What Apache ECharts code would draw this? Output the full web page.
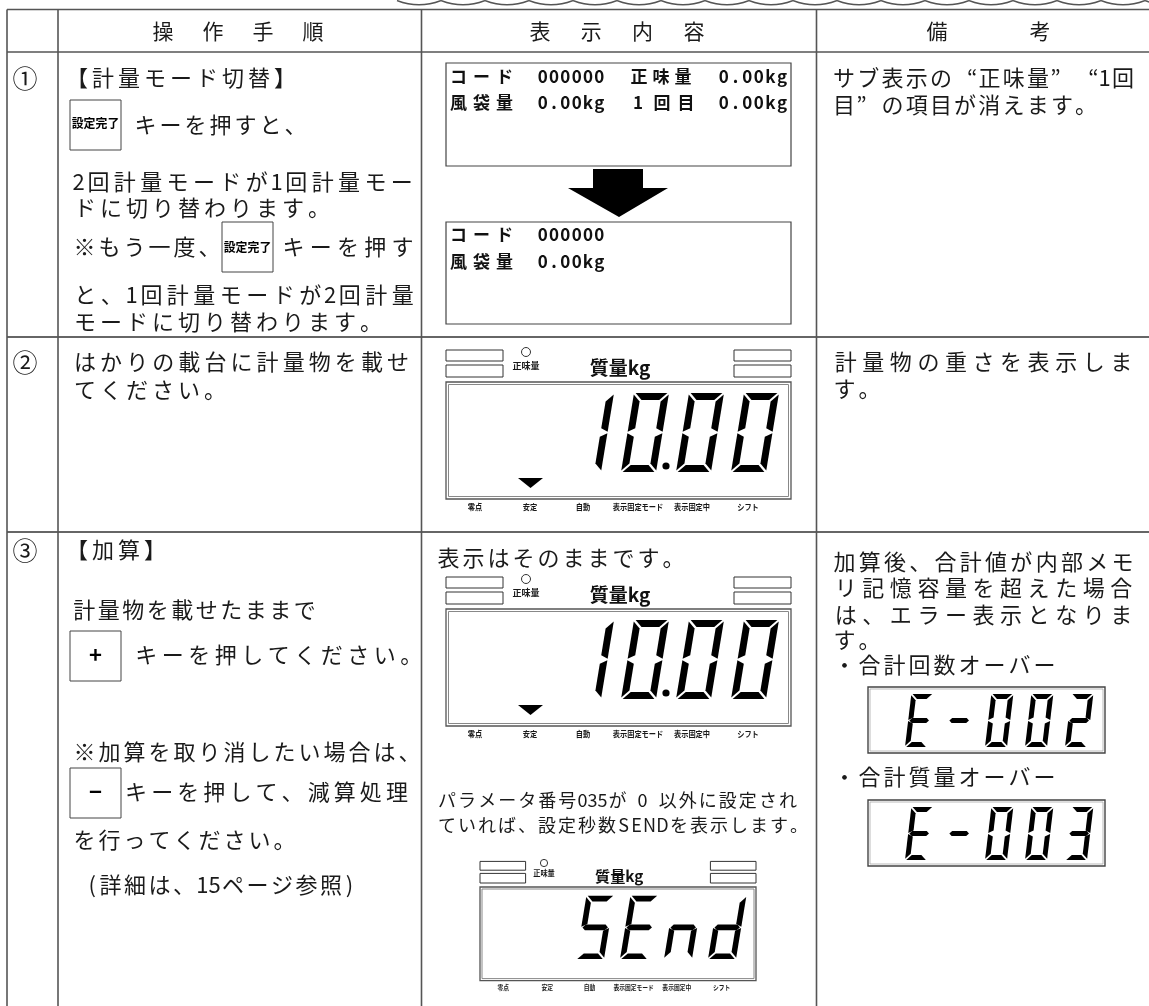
<!DOCTYPE html>
<html><head><meta charset="utf-8">
<script src="https://cdn.jsdelivr.net/npm/echarts@6/dist/echarts.min.js"></script>
<style>html,body{margin:0;padding:0;background:#fff}#c{width:1149px;height:1006px}</style>
</head><body><div id="c"></div>
<script>
// ---------------- content (text / readings) ----------------
const headerCells = ['操作手順', '表示内容', '備考'];
const stepMarks = ['①', '②', '③'];
const step1Lines = ['【計量モード切替】', 'キーを押すと、', '2回計量モードが1回計量モー', 'ドに切り替わります。',
  '※もう一度、', 'キーを押す', 'と、1回計量モードが2回計量', 'モードに切り替わります。'];
const step2Lines = ['はかりの載台に計量物を載せ', 'てください。'];
const step3Lines = ['【加算】', '計量物を載せたままで', 'キーを押してください。', '※加算を取り消したい場合は、',
  'キーを押して、減算処理', 'を行ってください。', '(詳細は、15ページ参照)'];
const keyLabels = ['設定完了', '設定完了', '+', '−'];
const subBefore = [['コード', '000000', '正味量', '0.00kg'], ['風袋量', '0.00kg', '1回目', '0.00kg']];
const subAfter = [['コード', '000000'], ['風袋量', '0.00kg']];
const midLines = ['表示はそのままです。', 'パラメータ番号035が 0 以外に設定され', 'ていれば、設定秒数SENDを表示します。'];
const note1Lines = ['サブ表示の“正味量”“1回', '目”の項目が消えます。'];
const note2Lines = ['計量物の重さを表示しま', 'す。'];
const note3Lines = ['加算後、合計値が内部メモ', 'リ記憶容量を超えた場合', 'は、エラー表示となりま', 'す。',
  '・合計回数オーバー', '・合計質量オーバー'];
const panelLabels = ['零点', '安定', '自動', '表示固定モード', '表示固定中', 'シフト'];
const panelTitle = '質量kg';
const netLabel = '正味量';
const weightReading = ['1', '0', '0', '0'];   // 10.00
const weightDotAfter = 1;
const sendReading = ['S', 'E', 'n', 'd'];
const errCount = ['E', '-', '0', '0', '2'];
const errMass = ['E', '-', '0', '0', '3'];

// ---------------- drawing helpers ----------------
const JP = '"Noto Sans CJK JP","Noto Sans",sans-serif';
const INK = '#1a1a1a';
const els = [];
function T(s, x, y, o) {
  o = o || {};
  els.push({type: 'text', x: x, y: y, scaleX: o.sx || 1, silent: true, z: 20,
    style: {text: s, fill: o.fill || INK, fontSize: o.fs || 22, fontFamily: o.ff || JP,
      fontWeight: o.fw || 'normal', textAlign: o.align || 'center', textVerticalAlign: 'middle',
      align: o.align || 'center', verticalAlign: 'middle'}});
}
function L(x1, y1, x2, y2, c, w) {
  els.push({type: 'line', silent: true, z: 5, shape: {x1: x1, y1: y1, x2: x2, y2: y2}, style: {stroke: c, lineWidth: w}});
}
function R(x, y, w, h, o) {
  o = o || {};
  els.push({type: 'rect', silent: true, z: 6, shape: {x: x, y: y, width: w, height: h},
    style: {fill: o.fill || 'none', stroke: o.stroke || '#333', lineWidth: o.lw || 1}});
}
function P(points, fill) {
  els.push({type: 'polygon', silent: true, z: 8, shape: {points: points}, style: {fill: fill || '#000'}});
}
function Ci(cx, cy, r, o) {
  o = o || {};
  els.push({type: 'circle', silent: true, z: 8, shape: {cx: cx, cy: cy, r: r},
    style: {fill: o.fill || 'none', stroke: o.stroke || null, lineWidth: o.lw || 1}});
}
function isHalf(c) { return c.charCodeAt(0) < 0x2000; }
// one text line laid out char by char; o.p = pitch per full-width char, or o.end = right edge (justified)
function row(str, x, y, o) {
  const hu = o.hu || 0.5;
  const chars = Array.from(str);
  const units = chars.reduce(function (s, c) { return s + (isHalf(c) ? hu : 1); }, 0);
  const pitch = o.end ? (o.end - x) / units : o.p;
  let cx = x;
  chars.forEach(function (c) {
    const adv = (isHalf(c) ? hu : 1) * pitch;
    if (c !== ' ') {
      if (c === '“') T(c, cx + adv, y, Object.assign({}, o, {align: 'right'}));
      else if (c === '”') T(c, cx, y, Object.assign({}, o, {align: 'left'}));
      else T(c, cx + adv / 2, y, o);
    }
    cx += adv;
  });
}
// uniform cells between x0 and x1
function cells(str, x0, x1, y, o) {
  const chars = Array.from(str);
  const w = (x1 - x0) / chars.length;
  chars.forEach(function (c, i) { T(c, x0 + w * (i + 0.5), y, o); });
}
// seven segment
const SEGMAP = {'0': 'abcdef', '1': 'bc', '2': 'abged', '3': 'abgcd', 'E': 'adefg', 'S': 'acdfg', 'n': 'ceg', 'd': 'bcdeg', '-': 'g'};
function seg7(ch, x0, y0, w, h, t, g, s) {
  const m = h / 2;
  const sh = {
    a: [[g, 0], [w - g, 0], [w - g - t, t], [g + t, t]],
    d: [[g, h], [w - g, h], [w - g - t, h - t], [g + t, h - t]],
    b: [[w, g], [w, m - g / 2], [w - t, m - g / 2 - t / 2], [w - t, g + t]],
    c: [[w, m + g / 2], [w, h - g], [w - t, h - g - t], [w - t, m + g / 2 + t / 2]],
    f: [[0, g], [t, g + t], [t, m - g / 2 - t / 2], [0, m - g / 2]],
    e: [[0, m + g / 2], [t, m + g / 2 + t / 2], [t, h - g - t], [0, h - g]],
    g: [[g, m], [g + t / 2, m - t / 2], [w - g - t / 2, m - t / 2], [w - g, m], [w - g - t / 2, m + t / 2], [g + t / 2, m + t / 2]]
  };
  Array.from(SEGMAP[ch]).forEach(function (k) {
    P(sh[k].map(function (p) { return [x0 + p[0] + (h - p[1]) * s, y0 + p[1]]; }), '#000');
  });
}
// weighing indicator panel; (ox,oy) = frame top-left, k = scale
const PANEL = {w: 345, h: 117, cellX: [120, 175, 230, 285], labelX: [29, 84, 137, 192, 246, 302]};
function panel(ox, oy, k, reading, dotAfter, stable) {
  const X = function (v) { return ox + v * k; }, Y = function (v) { return oy + v * k; };
  R(X(0), Y(-32), 57 * k, 11 * k, {stroke: '#333'});
  R(X(0), Y(-17), 57 * k, 12 * k, {stroke: '#333'});
  R(X(288), Y(-32), 57 * k, 11 * k, {stroke: '#333'});
  R(X(288), Y(-17), 57 * k, 12 * k, {stroke: '#333'});
  Ci(X(80), Y(-30), 4.5 * k, {stroke: '#333', lw: 1});
  T(netLabel, X(80), Y(-17), {fs: 9.5 * k, fw: 'bold', sx: 0.95});
  T(panelTitle, X(174), Y(-14), {fs: 19 * k, fw: 'bold', fill: '#111'});
  R(X(0), Y(0), PANEL.w * k, PANEL.h * k, {stroke: '#555', lw: 1.3});
  R(X(2.5), Y(2.5), (PANEL.w - 5) * k, (PANEL.h - 5) * k, {stroke: '#888', lw: 1});
  if (stable) P([[X(72), Y(96)], [X(97), Y(96)], [X(84.5), Y(106)]], '#000');
  panelLabels.forEach(function (s, i) { T(s, X(PANEL.labelX[i]), Y(125), {fs: 8.5 * k, fw: 'bold', sx: 0.85}); });
  reading.forEach(function (ch, i) { seg7(ch, X(PANEL.cellX[i]), Y(11), 35 * k, 79 * k, 7 * k, 1.6 * k, 0.165); });
  if (dotAfter >= 0) Ci(X(PANEL.cellX[dotAfter + 1] - 10), Y(84), 3.6 * k, {fill: '#000'});
}
function errBox(x, y, reading) {
  R(x, y, 237, 66, {stroke: '#444', lw: 1.4});
  R(x + 2, y + 2, 233, 62, {stroke: '#aaa', lw: 0.8});
  reading.forEach(function (ch, i) { seg7(ch, x + 37 + i * 40, y + 7, 22, 53, 5, 1.2, 0.12); });
}
function keyBox(x, y, label, o) {
  R(x, y, 51, 50, {stroke: '#444', lw: 1});
  T(label, x + 25.5, y + (o.dy || 25), o);
}

// ---------------- table frame ----------------
const GRID = {left: 7, c1: 58, c2: 421.5, c3: 816.5, right: 1149, top: 9.5, head: 52, r1: 337, r2: 532, bottom: 1006};
for (let x = 397; x < 1149; x += 44) {
  els.push({type: 'bezierCurve', silent: true, shape: {x1: x, y1: 0.5, cpx1: x + 22, cpy1: 9, x2: x + 44, y2: 0.5},
    style: {stroke: '#555', lineWidth: 1.4, fill: 'none'}});
}
[GRID.top, GRID.head].forEach(function (y) { L(GRID.left, y, GRID.right, y, '#555', 1.5); });
[GRID.r1, GRID.r2].forEach(function (y) { L(GRID.left, y, GRID.right, y, '#333', 1.5); });
[GRID.left, GRID.c1, GRID.c2, GRID.c3].forEach(function (x) { L(x, GRID.top, x, GRID.bottom, '#555', 1.6); });

// header
const headLayout = [[163, 50], [540, 51.3], [937, 103]];
headerCells.forEach(function (s, i) {
  Array.from(s).forEach(function (c, j) { T(c, headLayout[i][0] + j * headLayout[i][1], 31, {fs: 21}); });
});
// step marks
[78, 362, 550].forEach(function (y, i) { T(stepMarks[i], 25, y, {fs: 25}); });

const body = {fs: 22};
// step 1
const s1 = [[64, 78, {p: 26}], [133, 125, {p: 25}], [72, 182, {end: 415}], [72, 208, {p: 26}],
  [72, 247, {p: 25}], [280, 247, {end: 416}], [72, 295, {end: 416}], [72, 322, {p: 26}]];
step1Lines.forEach(function (s, i) { row(s, s1[i][0], s1[i][1], Object.assign({}, body, s1[i][2])); });
keyBox(70, 100, keyLabels[0], {fs: 12.5, fw: 'bold', dy: 23, sx: 0.95, fill: '#000'});
keyBox(222, 222, keyLabels[1], {fs: 12.5, fw: 'bold', dy: 25, sx: 0.95, fill: '#000'});
// step 2
const s2 = [[72, 362, {end: 411}], [72, 390, {p: 26}]];
step2Lines.forEach(function (s, i) { row(s, s2[i][0], s2[i][1], Object.assign({}, body, s2[i][2])); });
// step 3
const s3 = [[64, 550, {p: 26}], [72, 610, {p: 24.5}], [133, 655, {p: 26.5}], [72, 752, {p: 25}],
  [123, 792, {end: 410}], [72, 840, {p: 25}], [86, 885, {p: 24.5}]];
step3Lines.forEach(function (s, i) { row(s, s3[i][0], s3[i][1], Object.assign({}, body, s3[i][2])); });
keyBox(70, 631, keyLabels[2], {fs: 22, fw: 'bold', dy: 24, fill: '#000'});
keyBox(70, 768, keyLabels[3], {fs: 22, fw: 'bold', dy: 24, fill: '#000'});

// sub displays (row 1 middle)
const subFont = {fs: 17, fw: 'bold', fill: '#111'};
R(446, 63, 345, 103, {stroke: '#444', lw: 1.2});
R(446, 222, 345, 102, {stroke: '#444', lw: 1.2});
const subCols = [[447, 516], [537, 605], [628, 694], [718, 788]];
const subColsB = [[447, 516], [537, 605], [626, 698], [718, 788]];
subBefore[0].forEach(function (s, i) { cells(s, subCols[i][0], subCols[i][1], 77, subFont); });
subBefore[1].forEach(function (s, i) { cells(s, subColsB[i][0], subColsB[i][1], 103, subFont); });
subAfter[0].forEach(function (s, i) { cells(s, subCols[i][0], subCols[i][1], 235, subFont); });
subAfter[1].forEach(function (s, i) { cells(s, subCols[i][0], subCols[i][1], 262, subFont); });
// arrow
P([[593, 169], [643, 169], [643, 188], [668, 188], [619, 217], [568, 188], [593, 188]], '#000');

// indicator panels
panel(446, 382, 1, weightReading, weightDotAfter, true);
panel(446, 609, 1, weightReading, weightDotAfter, true);
panel(480, 887, 0.8, sendReading, -1, false);

// middle texts row 3
row(midLines[0], 436, 558, Object.assign({}, body, {p: 25}));
row(midLines[1], 437, 800, {fs: 18, end: 798});
row(midLines[2], 437, 825, {fs: 18, end: 809, hu: 0.65});

// notes column
const n1 = [[832, 78, {end: 1135}], [832, 105, {p: 24.2}]];
note1Lines.forEach(function (s, i) { row(s, n1[i][0], n1[i][1], Object.assign({}, body, n1[i][2])); });
const n2 = [[832, 362, {end: 1135}], [832, 389, {p: 25}]];
note2Lines.forEach(function (s, i) { row(s, n2[i][0], n2[i][1], Object.assign({}, body, n2[i][2])); });
const n3 = [[832, 562, {end: 1135}], [832, 588, {end: 1135}], [832, 615, {end: 1135}], [832, 640, {p: 25}],
  [832, 665, {p: 25}], [832, 777, {p: 25}]];
note3Lines.forEach(function (s, i) { row(s, n3[i][0], n3[i][1], Object.assign({}, body, n3[i][2])); });
errBox(868, 687, errCount);
errBox(868, 800, errMass);

const chart = echarts.init(document.getElementById('c'), null, {renderer: 'canvas'});
chart.setOption({backgroundColor: '#ffffff', animation: false, graphic: {elements: els}});
</script></body></html>
